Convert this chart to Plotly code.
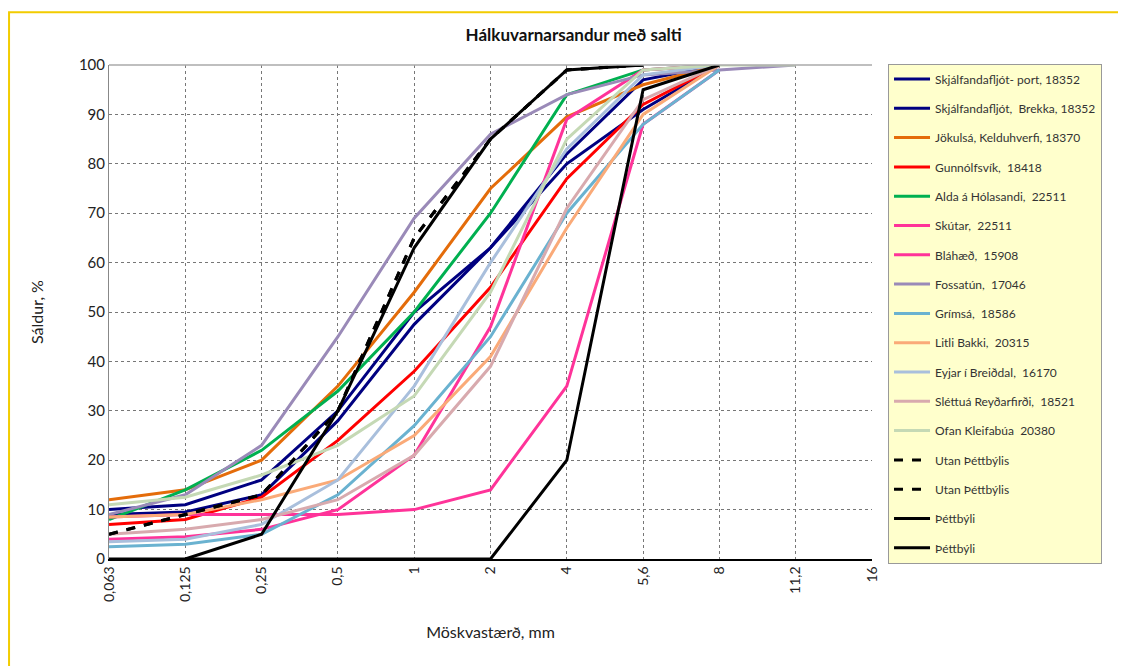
import plotly.graph_objects as go

# sieve sizes (category axis)
sizes = ["0,063", "0,125", "0,25", "0,5", "1", "2", "4", "5,6", "8", "11,2", "16"]

names = [
    "Skjálfandafljót- port, 18352",
    "Skjálfandafljót,  Brekka, 18352",
    "Jökulsá, Kelduhverfi, 18370",
    "Gunnólfsvík,  18418",
    "Alda á Hólasandi,  22511",
    "Skútar,  22511",
    "Bláhæð,  15908",
    "Fossatún,  17046",
    "Grímsá,  18586",
    "Litli Bakki,  20315",
    "Eyjar í Breiðdal,  16170",
    "Sléttuá Reyðarfirði,  18521",
    "Ofan Kleifabúa  20380",
]
colors = [
    "#000080", "#000080", "#E46C0A", "#FF0000", "#00B050", "#FF3399", "#FF3399",
    "#9A8AB8", "#6AB2D0", "#FAAA78", "#A9BFDC", "#D8AAAE", "#C5D9B5",
]

skjalf_port = [10, 11, 16, 30, 50, 63, 82, 97, 100]
skjalf_brekka = [9, 9.5, 13, 28, 47.5, 63, 80, 91, 100]
jokulsa = [12, 14, 20, 35, 54, 75, 89.5, 96, 100]
gunnolfsvik = [7, 8, 12.5, 24, 38, 55, 77, 92, 100]
alda = [8, 14, 22, 34, 50, 70, 94, 99, 100]
skutar = [4, 4.5, 6, 10, 21, 47, 89, 99, 100]
blahaed = [8.5, 9, 9, 9, 10, 14, 35, 88, 99]
fossatun = [9, 13, 23, 45, 69, 86, 94, 98, 99, 100]
grimsa = [2.5, 3, 5, 13, 27, 45, 70, 88, 99]
litli_bakki = [8.5, 9, 12, 16, 25, 41, 67, 90, 100]
eyjar = [3.5, 4, 7, 16, 35, 60, 83, 98, 100]
slettua = [5, 6, 8, 12, 21, 39, 71, 93, 100]
ofan = [11, 12.5, 17, 23, 33, 54, 85, 99, 100, 100]

samples = [skjalf_port, skjalf_brekka, jokulsa, gunnolfsvik, alda, skutar, blahaed,
           fossatun, grimsa, litli_bakki, eyjar, slettua, ofan]

# grading envelopes
utan_1 = [5, 9, 13, 30, 65, 85, 99, 100]
utan_2 = [5, 9, 13, 30, 65, 85, 99, 100]
thett_1 = [None, 0, 5, 30, 63, 85, 99, 100]
thett_2 = [0, 0, 0, 0, 0, 0, 20, 95, 100]

font = "Lato, 'Noto Sans', sans-serif"

fig = go.Figure()
for i, (name, vals) in enumerate(zip(names, samples)):
    fig.add_trace(go.Scatter(
        x=sizes[:len(vals)], y=vals, name=name, mode="lines",
        line=dict(color=colors[i], width=3), legendgroup=f"g{i}",
    ))

envelopes = [("Utan Þéttbýlis", utan_1, "dash"), ("Utan Þéttbýlis", utan_2, "dash"),
             ("Þéttbýli", thett_1, "solid"), ("Þéttbýli", thett_2, "solid")]
for j, (name, vals, dash) in enumerate(envelopes):
    fig.add_trace(go.Scatter(
        x=sizes[:len(vals)], y=vals, name=name, mode="lines",
        line=dict(color="black", width=3, dash=dash), legendgroup=f"e{j}",
    ))

# the page body adds an 8px offset, so the figure is 8px smaller on each side
fig.update_layout(
    width=1118, height=658,
    paper_bgcolor="white", plot_bgcolor="white",
    margin=dict(l=101, r=254, t=57, b=107),
    font=dict(family=font, color="#222"),
    title=dict(text="<b>Hálkuvarnarsandur með salti</b>", x=0.609, xref="paper",
               xanchor="center", y=0.959, yanchor="middle",
               font=dict(size=17, color="#111")),
    legend=dict(x=1.021, y=1.003, xanchor="left", yanchor="top",
                bgcolor="#FFFFCC", bordercolor="#999", borderwidth=1,
                font=dict(size=12, color="#333"), tracegroupgap=10.3,
                traceorder="grouped", itemwidth=36, maxheight=600),
    xaxis=dict(type="category", categoryorder="array", categoryarray=sizes,
               range=[0, 10], tickangle=-90, tickfont=dict(size=14),
               showgrid=True, gridcolor="#777", griddash="dot", gridwidth=1,
               showline=True, linecolor="black", linewidth=1.5,
               title=dict(text="Möskvastærð, mm", font=dict(size=16), standoff=26)),
    yaxis=dict(range=[0, 100], dtick=10, tickfont=dict(size=15),
               showgrid=True, gridcolor="#777", griddash="dot", gridwidth=1,
               showline=True, linecolor="#888", linewidth=1,
               title=dict(text="Sáldur, %", font=dict(size=16), standoff=31)),
    shapes=[
        dict(type="line", xref="paper", yref="paper", x0=0, x1=1, y0=1, y1=1,
             line=dict(color="#aaa", width=1.5)),
        dict(type="rect", xref="paper", yref="paper", x0=-0.131, x1=1.35,
             y0=-0.24, y1=1.107, line=dict(color="#F2CC00", width=2),
             layer="below"),
    ],
)

fig.write_html("out.html")
